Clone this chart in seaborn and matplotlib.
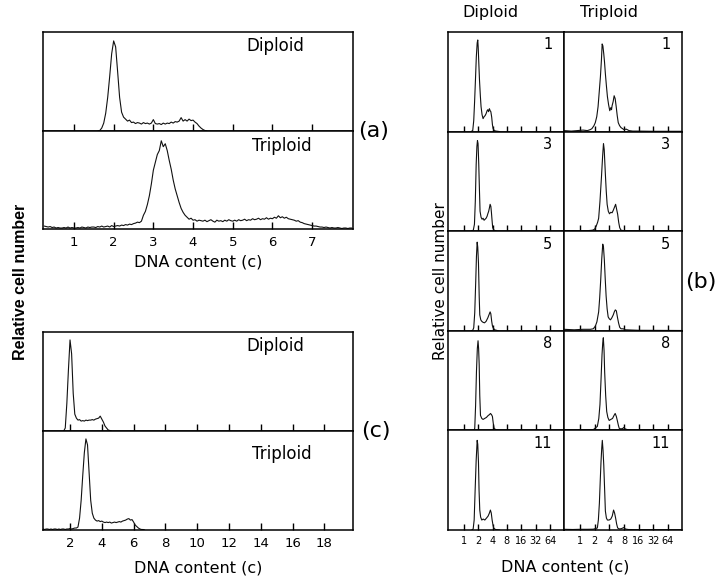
import numpy as np
import matplotlib
matplotlib.use("Agg")
import matplotlib.pyplot as plt
import seaborn as sns

sns.set_theme(style="white")
plt.rcParams['font.family'] = ['DejaVu Sans']
plt.rcParams['axes.edgecolor'] = 'black'
plt.rcParams['axes.linewidth'] = 1.1
plt.rcParams['text.color'] = 'black'
plt.rcParams['xtick.color'] = 'black'
plt.rcParams['xtick.labelcolor'] = 'black'

# ---- panel (a): linear DNA content, bins of 0.05 c ----
a_dip_start = 1.60
a_dip = [0.0, 0.005, 0.03, 0.08, 0.18, 0.34, 0.55, 0.78, 0.91, 0.85,
         0.60, 0.34, 0.19, 0.14, 0.12, 0.10, 0.11, 0.085, 0.09, 0.075,
         0.085, 0.08, 0.07, 0.085, 0.075, 0.08, 0.07, 0.08, 0.115, 0.075,
         0.07, 0.075, 0.065, 0.08, 0.07, 0.08, 0.075, 0.09, 0.08, 0.095,
         0.09, 0.10, 0.135, 0.10, 0.115, 0.10, 0.12, 0.105, 0.11, 0.09,
         0.075, 0.05, 0.03, 0.015, 0.005, 0.0]
a_tri_start = 0.25
a_tri = [0.03, 0.025, 0.02, 0.025, 0.015, 0.02, 0.01, 0.015, 0.01, 0.01, 0.015, 0.01, 0.02, 0.01, 0.015, 0.01,
         0.01, 0.015, 0.01, 0.02, 0.015, 0.01, 0.02, 0.015, 0.02, 0.02, 0.015, 0.025, 0.02, 0.03, 0.02, 0.025, 0.03, 0.02, 0.035, 0.025,
         0.03, 0.035, 0.03, 0.04, 0.035, 0.045, 0.04, 0.05, 0.045, 0.055, 0.06, 0.07, 0.065, 0.08,
         0.14, 0.18, 0.25, 0.34, 0.46, 0.60, 0.68, 0.76, 0.80, 0.90, 0.84, 0.87, 0.80, 0.70, 0.61, 0.50, 0.41, 0.34,
         0.27, 0.21, 0.17, 0.14, 0.12, 0.10, 0.11, 0.09, 0.095, 0.08, 0.09, 0.085,
         0.08, 0.09, 0.075, 0.085, 0.095, 0.08, 0.07, 0.09, 0.08, 0.085, 0.075, 0.09, 0.08, 0.095, 0.085, 0.08,
         0.09, 0.08, 0.095, 0.085, 0.09, 0.10, 0.085, 0.095, 0.09, 0.105, 0.095, 0.10, 0.11, 0.095, 0.105, 0.10, 0.115, 0.10, 0.11, 0.105,
         0.12, 0.11, 0.135, 0.115, 0.125, 0.11, 0.12, 0.105, 0.10, 0.095, 0.09, 0.08, 0.085, 0.07, 0.065, 0.055, 0.05, 0.045, 0.04, 0.035,
         0.03, 0.03, 0.025, 0.02, 0.02, 0.015, 0.02, 0.015, 0.01, 0.015, 0.01, 0.01, 0.015, 0.01, 0.005, 0.01, 0.01, 0.005, 0.01, 0.01]

# ---- panel (c): linear DNA content, bins of 0.1 c ----
c_dip_start = 1.6
c_dip = [0.0, 0.03, 0.28, 0.62, 0.92, 0.78, 0.38, 0.17, 0.13, 0.11,
         0.115, 0.10, 0.105, 0.10, 0.11, 0.105, 0.11, 0.11, 0.115, 0.11,
         0.12, 0.125, 0.13, 0.15, 0.12, 0.09, 0.05, 0.03, 0.01, 0.005, 0.0]
c_tri_start = 0.3
c_tri = [0.01, 0.005, 0.01, 0.01, 0.005, 0.01, 0.005, 0.01, 0.01, 0.005, 0.01,
         0.005, 0.01, 0.01, 0.005, 0.01, 0.01, 0.015, 0.01, 0.015, 0.02, 0.02,
         0.03, 0.12, 0.30, 0.55, 0.78, 0.92, 0.86, 0.58, 0.30, 0.17, 0.12, 0.10,
         0.09, 0.095, 0.085, 0.09, 0.08, 0.075, 0.08, 0.075, 0.08, 0.07, 0.075,
         0.08, 0.075, 0.08, 0.085, 0.08, 0.09, 0.095, 0.10, 0.11, 0.115, 0.10,
         0.105, 0.08, 0.05, 0.035, 0.02, 0.01, 0.005, 0.005, 0.0]

# ---- panel (b): log2 DNA content readings per day ----
days = [1, 3, 5, 8, 11]
b_dip_log = {
    1: [0.5, 0.62, 0.69, 0.75, 0.81, 0.87, 0.93, 0.97, 1.0, 1.04, 1.09, 1.15, 1.2, 1.27, 1.34,
        1.41, 1.48, 1.55, 1.62, 1.67, 1.72, 1.78, 1.83, 1.88, 1.94, 1.99, 2.04, 2.12, 2.25, 2.5],
    3: [0.5, 0.66, 0.74, 0.8, 0.86, 0.91, 0.95, 0.99, 1.04, 1.09, 1.13, 1.2, 1.27, 1.34,
        1.41, 1.48, 1.55, 1.62, 1.67, 1.73, 1.79, 1.83, 1.88, 1.92, 1.97, 2.01, 2.1, 2.3],
    5: [0.5, 0.62, 0.69, 0.76, 0.83, 0.88, 0.93, 0.97, 1.02, 1.07, 1.11, 1.18, 1.25,
        1.34, 1.44, 1.55, 1.67, 1.75, 1.83, 1.88, 1.94, 1.99, 2.04, 2.15, 2.4],
    8: [0.6, 0.72, 0.76, 0.82, 0.88, 0.94, 0.99, 1.03, 1.07, 1.11, 1.16, 1.25, 1.34,
        1.45, 1.57, 1.7, 1.8, 1.85, 1.92, 1.99, 2.05, 2.11, 2.25, 2.5],
    11: [0.55, 0.65, 0.72, 0.79, 0.86, 0.93, 0.97, 1.02, 1.06, 1.11, 1.17, 1.25, 1.35,
         1.46, 1.58, 1.69, 1.78, 1.85, 1.91, 1.97, 2.03, 2.08, 2.2, 2.5],
}
b_dip_val = {
    1: [0, 0.01, 0.11, 0.30, 0.52, 0.75, 0.89, 0.92, 0.85, 0.70, 0.52, 0.36, 0.25, 0.17, 0.13,
        0.15, 0.16, 0.18, 0.21, 0.22, 0.20, 0.23, 0.21, 0.20, 0.145, 0.07, 0.03, 0.01, 0.005, 0],
    3: [0, 0.01, 0.07, 0.30, 0.67, 0.85, 0.91, 0.88, 0.67, 0.40, 0.20, 0.14, 0.12, 0.13,
        0.11, 0.12, 0.13, 0.15, 0.175, 0.20, 0.24, 0.27, 0.25, 0.19, 0.10, 0.035, 0.01, 0],
    5: [0, 0.005, 0.03, 0.18, 0.50, 0.75, 0.89, 0.84, 0.68, 0.35, 0.16, 0.11, 0.095,
        0.085, 0.08, 0.095, 0.13, 0.16, 0.19, 0.17, 0.095, 0.05, 0.03, 0.01, 0],
    8: [0, 0.005, 0.02, 0.25, 0.59, 0.82, 0.90, 0.82, 0.66, 0.35, 0.15, 0.12, 0.11,
        0.12, 0.13, 0.15, 0.16, 0.17, 0.16, 0.14, 0.07, 0.02, 0.005, 0],
    11: [0, 0.01, 0.1, 0.41, 0.70, 0.90, 0.86, 0.68, 0.40, 0.20, 0.13, 0.10, 0.11,
         0.10, 0.12, 0.14, 0.17, 0.20, 0.17, 0.10, 0.05, 0.02, 0.005, 0],
}
b_tri_log = {
    1: [-1.1, -0.6, -0.2, 0.2, 0.5, 0.7, 0.81, 0.95, 1.04, 1.14, 1.23, 1.31, 1.39, 1.46, 1.51, 1.56,
        1.62, 1.67, 1.73, 1.8, 1.87, 1.95, 2.03, 2.1, 2.15, 2.19, 2.26, 2.33, 2.4, 2.47, 2.54,
        2.61, 2.7, 2.8, 2.9, 3.0, 3.15, 3.35, 3.6, 4.0, 5.0, 6.95],
    3: [-1.1, -0.5, 0.0, 0.5, 0.85, 0.99, 1.1, 1.2, 1.27, 1.36, 1.46, 1.54, 1.6, 1.65, 1.73,
        1.79, 1.85, 1.93, 2.01, 2.1, 2.19, 2.27, 2.35, 2.43, 2.5, 2.57, 2.64, 2.71, 2.8, 3.0, 4.0, 6.95],
    5: [-1.1, -0.4, 0.2, 0.7, 0.9, 1.04, 1.15, 1.27, 1.34, 1.41, 1.48, 1.55, 1.6, 1.66, 1.72,
        1.78, 1.85, 1.92, 2.0, 2.08, 2.17, 2.27, 2.34, 2.41, 2.48, 2.55, 2.63, 2.71, 2.8, 2.95,
        3.1, 4.0, 6.95],
    8: [-1.1, -0.5, 0.0, 0.5, 0.9, 1.18, 1.28, 1.36, 1.43, 1.5, 1.55, 1.59, 1.64, 1.68, 1.75,
        1.82, 1.9, 1.99, 2.1, 2.22, 2.32, 2.4, 2.48, 2.56, 2.62, 2.68, 2.8, 2.92, 2.99, 3.08,
        3.3, 4.0, 6.95],
    11: [-1.1, -0.5, 0.0, 0.5, 0.9, 1.18, 1.25, 1.32, 1.38, 1.43, 1.48, 1.52, 1.57, 1.62, 1.68,
         1.73, 1.8, 1.87, 1.98, 2.1, 2.2, 2.29, 2.36, 2.43, 2.5, 2.57, 2.7, 2.85, 2.99, 3.1,
         3.3, 4.0, 6.95],
}
b_tri_val = {
    1: [0.01, 0.005, 0.01, 0.015, 0.01, 0.02, 0.03, 0.06, 0.09, 0.15, 0.25, 0.40, 0.55, 0.72, 0.88, 0.86,
        0.78, 0.70, 0.58, 0.46, 0.35, 0.27, 0.21, 0.24, 0.22, 0.26, 0.30, 0.36, 0.33, 0.25, 0.16,
        0.09, 0.06, 0.04, 0.03, 0.02, 0.025, 0.01, 0.005, 0.005, 0.003, 0.003],
    3: [0.005, 0.005, 0.003, 0.005, 0.01, 0.02, 0.05, 0.09, 0.13, 0.30, 0.54, 0.75, 0.88, 0.82, 0.57,
        0.40, 0.27, 0.20, 0.175, 0.19, 0.185, 0.21, 0.24, 0.27, 0.22, 0.17, 0.09, 0.035, 0.01, 0.005,
        0.003, 0.003],
    5: [0.015, 0.01, 0.015, 0.015, 0.02, 0.045, 0.09, 0.19, 0.33, 0.51, 0.72, 0.87, 0.84, 0.71, 0.52,
        0.35, 0.22, 0.14, 0.12, 0.11, 0.13, 0.16, 0.19, 0.21, 0.20, 0.14, 0.08, 0.035, 0.02, 0.02,
        0.01, 0.005, 0.003],
    8: [0.005, 0.003, 0.005, 0.005, 0.007, 0.04, 0.12, 0.26, 0.50, 0.76, 0.88, 0.93, 0.80, 0.59, 0.35,
        0.19, 0.13, 0.10, 0.11, 0.12, 0.15, 0.17, 0.14, 0.09, 0.05, 0.02, 0.015, 0.02, 0.03, 0.015,
        0.005, 0.003, 0.003],
    11: [0.007, 0.005, 0.007, 0.007, 0.008, 0.02, 0.10, 0.27, 0.50, 0.68, 0.82, 0.90, 0.80, 0.65, 0.40,
         0.19, 0.12, 0.10, 0.10, 0.11, 0.14, 0.20, 0.17, 0.12, 0.06, 0.02, 0.01, 0.015, 0.025, 0.01,
         0.005, 0.003, 0.003],
}

a_ticks = [1, 2, 3, 4, 5, 6, 7]
c_ticks = [2, 4, 6, 8, 10, 12, 14, 16, 18]
b_ticks = [1, 2, 4, 8, 16, 32, 64]

W, H = 720, 579
fig = plt.figure(figsize=(W / 100, H / 100), dpi=100)


def box(x0, y0, x1, y1):
    return [x0 / W, 1 - y1 / H, (x1 - x0) / W, (y1 - y0) / H]


def curve(ax, x, y):
    sns.lineplot(x=x, y=y, ax=ax, color='#111111', linewidth=0.8, estimator=None)
    ax.set_ylim(0, 1)
    ax.set_yticks([])
    ax.set_ylabel('')
    ax.set_xlabel('')


def bins(start, step, vals):
    return start + step * np.arange(len(vals))


# (a)
ax_a1 = fig.add_axes(box(43, 32, 353, 131))
ax_a2 = fig.add_axes(box(43, 131, 353, 229))
curve(ax_a1, bins(a_dip_start, 0.05, a_dip), a_dip)
curve(ax_a2, bins(a_tri_start, 0.05, a_tri), a_tri)
for ax in (ax_a1, ax_a2):
    ax.set_xlim(0.22, 8.03)
    ax.set_xticks(a_ticks)
    ax.tick_params(axis='x', direction='in', length=5, width=1, pad=5, labelsize=9.5, bottom=True)
ax_a1.tick_params(labelbottom=False)
ax_a1.text(0.75, 0.86, 'Diploid', transform=ax_a1.transAxes, ha='center', va='center', fontsize=12)
ax_a2.text(0.77, 0.85, 'Triploid', transform=ax_a2.transAxes, ha='center', va='center', fontsize=12)

# (c)
ax_c1 = fig.add_axes(box(43, 332, 353, 431))
ax_c2 = fig.add_axes(box(43, 431, 353, 530))
curve(ax_c1, bins(c_dip_start, 0.1, c_dip), c_dip)
curve(ax_c2, bins(c_tri_start, 0.1, c_tri), c_tri)
for ax in (ax_c1, ax_c2):
    ax.set_xlim(0.3, 19.8)
    ax.set_xticks(c_ticks)
    ax.tick_params(axis='x', direction='in', length=5, width=1, pad=5, labelsize=9.5, bottom=True)
ax_c1.tick_params(labelbottom=False)
ax_c1.text(0.75, 0.86, 'Diploid', transform=ax_c1.transAxes, ha='center', va='center', fontsize=12)
ax_c2.text(0.77, 0.77, 'Triploid', transform=ax_c2.transAxes, ha='center', va='center', fontsize=12)

# (b)
row_edges = [32, 131.6, 231.2, 330.8, 430.4, 530]
for i, day in enumerate(days):
    y0, y1 = row_edges[i], row_edges[i + 1]
    for col, (x0, x1) in enumerate([(448, 564), (564, 682)]):
        ax = fig.add_axes(box(x0, y0, x1, y1))
        if col == 0:
            lx, vals = b_dip_log[day], b_dip_val[day]
        else:
            lx, vals = b_tri_log[day], b_tri_val[day]
        curve(ax, 2.0 ** np.array(lx), vals)
        ax.set_xscale('log', base=2)
        ax.set_xlim(2 ** -1.1, 2 ** 6.97)
        ax.set_xticks(b_ticks)
        ax.set_xticklabels([str(t) for t in b_ticks])
        ax.minorticks_off()
        ax.tick_params(axis='x', direction='in', length=4, width=1, pad=4, labelsize=7, bottom=True,
                       labelbottom=(i == len(days) - 1))
        ax.text(0.9, 0.87, str(day), transform=ax.transAxes, ha='right', va='center', fontsize=10.5)

# labels
fig.text(198 / W, 1 - 262 / H, 'DNA content (c)', ha='center', va='center', fontsize=11.5)
fig.text(198 / W, 1 - 568 / H, 'DNA content (c)', ha='center', va='center', fontsize=11.5)
fig.text(565 / W, 1 - 567 / H, 'DNA content (c)', ha='center', va='center', fontsize=11.5)
fig.text(490 / W, 1 - 13 / H, 'Diploid', ha='center', va='center', fontsize=11.5)
fig.text(609 / W, 1 - 13 / H, 'Triploid', ha='center', va='center', fontsize=11.5)
fig.text(21 / W, 1 - 282 / H, 'Relative cell number', rotation=90, ha='center', va='center',
         fontsize=11.5, family=['Liberation Sans', 'DejaVu Sans'], weight='bold')
fig.text(440 / W, 1 - 281 / H, 'Relative cell number', rotation=90, ha='center', va='center', fontsize=11)
fig.text(374 / W, 1 - 131 / H, '(a)', ha='center', va='center', fontsize=16)
fig.text(701 / W, 1 - 282 / H, '(b)', ha='center', va='center', fontsize=16)
fig.text(376 / W, 1 - 431 / H, '(c)', ha='center', va='center', fontsize=16)

fig.savefig('out.png', dpi=100)
